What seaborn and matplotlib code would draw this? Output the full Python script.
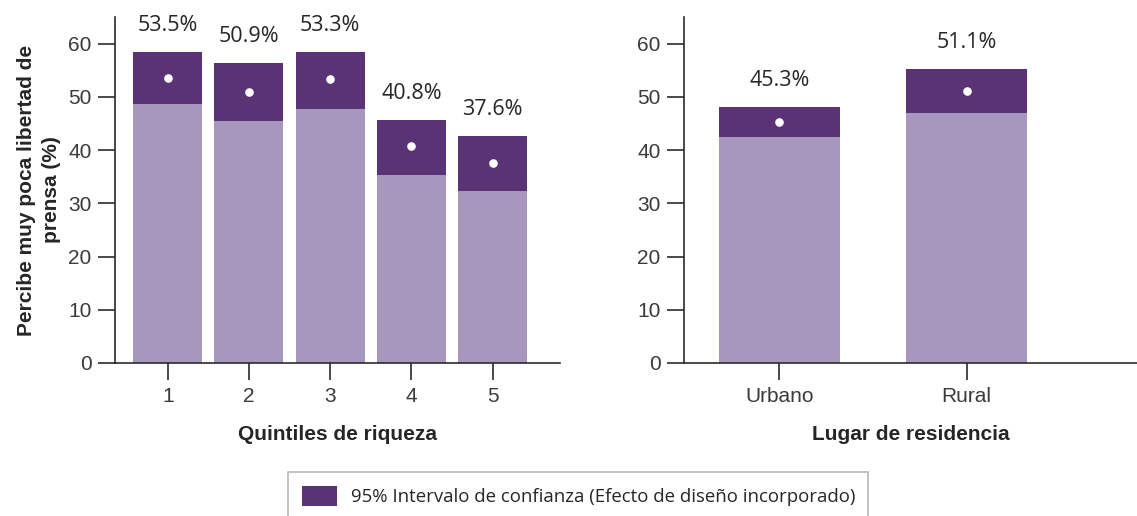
import matplotlib

matplotlib.use("Agg")

import matplotlib.pyplot as plt
from matplotlib.patches import Patch
import pandas as pd
import seaborn as sns

# data
quintiles = ["1", "2", "3", "4", "5"]
quintile_est = [53.5, 50.9, 53.3, 40.8, 37.6]
quintile_low = [48.6, 45.4, 47.7, 35.3, 32.4]
quintile_high = [58.4, 56.3, 58.4, 45.6, 42.6]

residence = ["Urbano", "Rural"]
residence_est = [45.3, 51.1]
residence_low = [42.4, 46.9]
residence_high = [48.0, 55.2]

yticks = [0, 10, 20, 30, 40, 50, 60]

DARK = "#5A3276"
LIGHT = "#A797BC"
SPINE = "#2B2B2B"
TEXT = "#262626"

sns.set_theme(style="white")
plt.rcParams.update(
    {
        "font.family": ["Liberation Sans Narrow", "Liberation Sans", "DejaVu Sans"],
        "axes.edgecolor": SPINE,
        "axes.linewidth": 1.2,
        "xtick.color": SPINE,
        "ytick.color": SPINE,
        "xtick.labelcolor": "#3A3A3A",
        "ytick.labelcolor": "#3A3A3A",
        "text.color": TEXT,
    }
)

W, H = 1137, 516
fig = plt.figure(figsize=(W / 100, H / 100), dpi=100)
ax_left = fig.add_axes([115 / W, 1 - 363 / H, 445 / W, 346 / H])
ax_right = fig.add_axes([684 / W, 1 - 363 / H, 453 / W, 346 / H])


def panel(ax, cats, est, low, high, width, xlim, xlabel):
    df = pd.DataFrame({"cat": cats, "est": est, "low": low, "high": high})
    sns.barplot(data=df, x="cat", y="high", order=cats, color=DARK,
                width=width, saturation=1, linewidth=0, ax=ax)
    sns.barplot(data=df, x="cat", y="low", order=cats, color=LIGHT,
                width=width, saturation=1, linewidth=0, ax=ax)
    sns.stripplot(data=df, x="cat", y="est", order=cats, jitter=False,
                  color="white", size=6.2, linewidth=0, zorder=5, ax=ax)
    for i, (e, h) in enumerate(zip(est, high)):
        ax.text(i, h + 5.0, f"{e:.1f}%", ha="center", va="center",
                fontsize=15.5, family=["Open Sans", "DejaVu Sans"], color=TEXT)
    ax.set_ylim(0, 65)
    ax.set_xlim(*xlim)
    ax.set_yticks(yticks)
    ax.set_xlabel(xlabel, fontsize=15, fontweight="bold",
                  family=["Liberation Sans", "DejaVu Sans"], labelpad=14)
    ax.set_ylabel("")
    ax.tick_params(axis="both", which="major", length=12, width=1.2,
                   labelsize=15, bottom=True, left=True, direction="out")
    ax.tick_params(axis="y", pad=5)
    ax.tick_params(axis="x", pad=5)
    sns.despine(ax=ax)


panel(ax_left, quintiles, quintile_est, quintile_low, quintile_high,
      0.85, (-0.65, 4.83), "Quintiles de riqueza")
panel(ax_right, residence, residence_est, residence_low, residence_high,
      0.65, (-0.51, 1.91), "Lugar de residencia")

ax_left.set_ylabel("Percibe muy poca libertad de\nprensa (%)", fontsize=15,
                   fontweight="bold", family=["Liberation Sans", "DejaVu Sans"],
                   labelpad=5, linespacing=1.4)

leg = fig.legend(
    handles=[Patch(facecolor=DARK, edgecolor="none",
                   label="95% Intervalo de confianza (Efecto de diseño incorporado)")],
    loc="upper left",
    bbox_to_anchor=(288 / W, 0, 580 / W, 1 - 472 / H),
    mode="expand",
    borderaxespad=0,
    frameon=True,
    fancybox=False,
    edgecolor="#A6A6A6",
    prop={"family": ["Open Sans", "DejaVu Sans"], "size": 13.4},
    handlelength=1.9,
    handleheight=1.3,
    handletextpad=0.75,
    borderpad=0.75,
)
leg.get_frame().set_linewidth(1.2)

fig.savefig("out.png", dpi=100)
